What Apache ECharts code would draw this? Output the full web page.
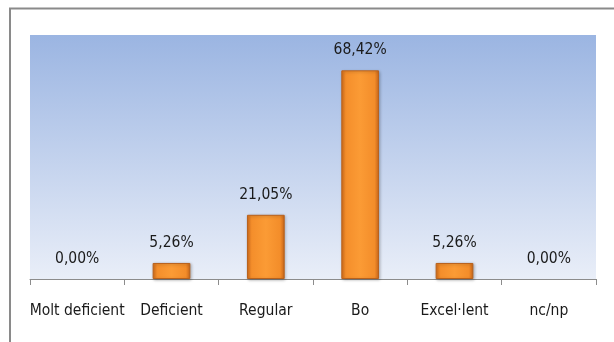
<!DOCTYPE html>
<html>
<head>
<meta charset="utf-8">
<script src="https://cdn.jsdelivr.net/npm/echarts@6/dist/echarts.min.js"></script>
<style>
  html, body { margin: 0; padding: 0; background: #fff; }
  #chart { width: 614px; height: 342px; }
</style>
</head>
<body>
<div id="chart"></div>
<script>
// Rating categories and their share of responses (%)
const categories = ['Molt deficient', 'Deficient', 'Regular', 'Bo', 'Excel·lent', 'nc/np'];
const percentages = [0.00, 5.26, 21.05, 68.42, 5.26, 0.00];

const FONT = '"Liberation Sans Narrow", "DejaVu Sans Condensed", "Liberation Sans", sans-serif';

const chart = echarts.init(document.getElementById('chart'), null, { renderer: 'canvas' });

const barFill = new echarts.graphic.LinearGradient(0, 0, 1, 0, [
  { offset: 0, color: '#D9701C' },
  { offset: 0.12, color: '#F48E2B' },
  { offset: 0.5, color: '#FB9B35' },
  { offset: 0.88, color: '#F38D2A' },
  { offset: 1, color: '#C9661A' }
]);

// zero-height bars get no outline or shadow so nothing shows on the axis
const barData = percentages.map(v => v === 0
  ? { value: v, itemStyle: { borderWidth: 0, shadowBlur: 0, shadowOffsetX: 0, shadowOffsetY: 0, opacity: 0 } }
  : v);

chart.setOption({
  animation: false,
  graphic: [
    {
      type: 'polyline',
      shape: { points: [[10, 342], [10, 8.5], [614, 8.5]] },
      style: { stroke: '#8A8A8A', lineWidth: 2, fill: null },
      z: 10
    }
  ],
  grid: {
    left: 30, right: 18, top: 35, bottom: 63,
    show: true,
    borderWidth: 0,
    backgroundColor: new echarts.graphic.LinearGradient(0, 0, 0, 1, [
      { offset: 0, color: '#9BB5E2' },
      { offset: 1, color: '#E9EEF8' }
    ])
  },
  xAxis: {
    type: 'category',
    data: categories,
    axisLine: { lineStyle: { color: '#8C8C8C', width: 1 } },
    axisTick: { show: true, alignWithLabel: false, length: 6, lineStyle: { color: '#8C8C8C' } },
    axisLabel: {
      color: '#1A1A1A', fontFamily: FONT, fontSize: 15.5, margin: 24, interval: 0
    }
  },
  yAxis: {
    type: 'value',
    min: 0, max: 80,
    show: false,
    splitLine: { show: false }
  },
  series: [{
    type: 'bar',
    data: barData,
    barWidth: '40%',
    itemStyle: {
      color: barFill,
      borderColor: '#B8611C',
      borderWidth: 1,
      shadowColor: 'rgba(0,0,0,0.25)',
      shadowBlur: 3,
      shadowOffsetX: 1,
      shadowOffsetY: 1
    },
    label: {
      show: true,
      position: 'top',
      distance: 12,
      color: '#1A1A1A',
      fontFamily: FONT,
      fontSize: 15.5,
      opacity: 1,
      formatter: p => p.value.toFixed(2).replace('.', ',') + '%'
    }
  }]
});
</script>
</body>
</html>
